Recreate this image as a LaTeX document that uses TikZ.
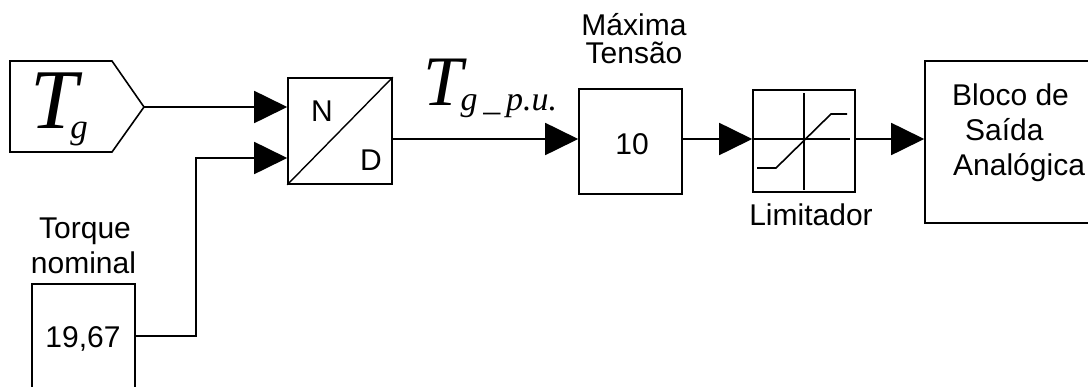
\documentclass[tikz,border=0pt]{standalone}
\usepackage{fontspec}
\setmainfont{Liberation Sans}
\newfontfamily\tms{Liberation Serif}
\usetikzlibrary{arrows.meta}
\tikzset{
  blk/.style={draw, line width=1.6pt, inner sep=0pt, rectangle},
  conn/.style={line width=1.8pt},
  arr/.style={conn, -{Triangle[length=33pt,width=32pt]}},
  lbl/.style={font=\fontsize{30}{30}\selectfont, inner sep=0pt, anchor=base},
  lbll/.style={font=\fontsize{30}{30}\selectfont, inner sep=0pt, anchor=base west},
  mth/.style={inner sep=0pt, anchor=base west, font=\tms\itshape},
}
\begin{document}
\begin{tikzpicture}[x=1pt,y=-1pt]
\path[use as bounding box, clip] (0,0) rectangle (1088,386);
\fill[white] (0,0) rectangle (1088,386);

% Tg source block (pentagon)
\draw[line width=1.6pt] (10,61) -- (112,61) -- (144,107) -- (112,152) -- (10,152) -- cycle;
\coordinate (tgtip) at (144,107);
\node[mth] (tg) at (30,128) {\fontsize{85}{85}\selectfont T\kern-7pt\raisebox{-10pt}{\fontsize{35}{35}\selectfont g}};

% N/D block
\node[blk, minimum width=104pt, minimum height=106pt] (nd) at (340,131) {};
\draw[line width=1.4pt] (nd.south west) -- (nd.north east);
\node[lbl] (ndN) at (322,121) {N};
\node[lbl] (ndD) at (371,170) {D};

% Torque nominal
\node[blk, minimum width=103pt, minimum height=104pt] (tq) at (83.5,336) {};
\node[lbl] (tqv) at (83,347) {19,67};
\node[lbl] (tqa) at (85,238) {Torque};
\node[lbl] (tqb) at (83.5,273) {nominal};

% gain block
\node[blk, minimum width=103pt, minimum height=105pt] (gain) at (630.5,141.5) {};
\node[lbl] (gainv) at (632,154) {10};
\node[lbl] (gaina) at (634,35) {Máxima};
\node[lbl] (gainb) at (634,63) {Tensão};

% Tg_p.u. label
\node[mth] (pu) at (423,105) {\fontsize{71}{71}\selectfont T\kern-2pt\raisebox{-5pt}{\fontsize{34}{34}\selectfont g\,\_\,p.u.}};

% limiter
\node[blk, minimum width=102pt, minimum height=102pt] (lim) at (804,141) {};
\draw[line width=1.6pt] (804,93) -- (804,190);
\draw[line width=1.6pt] (754,139) -- (850,139);
\draw[line width=1.6pt] (757,168) -- (776,168) -- (831,114) -- (847,114);
\node[lbl] (liml) at (811,225) {Limitador};

% output block
\node[blk, minimum width=185pt, minimum height=162pt] (out) at (1017.5,142) {};
\node[lbll] (outa) at (952,105) {Bloco de};
\node[lbll] (outb) at (965,140) {Saída};
\node[lbll] (outc) at (953,175) {Analógica};

% connectors
\coordinate (row) at (0,139);
\coordinate (c1) at (196,158);
\draw[arr] (tgtip) -- (tgtip -| nd.west);
\draw[arr] (tq.east) -| (c1) -- (c1 -| nd.west);
\draw[arr] (nd.east |- row) -- (gain.west |- row);
\draw[arr] (gain.east |- row) -- (lim.west |- row);
\draw[arr] (lim.east |- row) -- (out.west |- row);
\end{tikzpicture}
\end{document}
